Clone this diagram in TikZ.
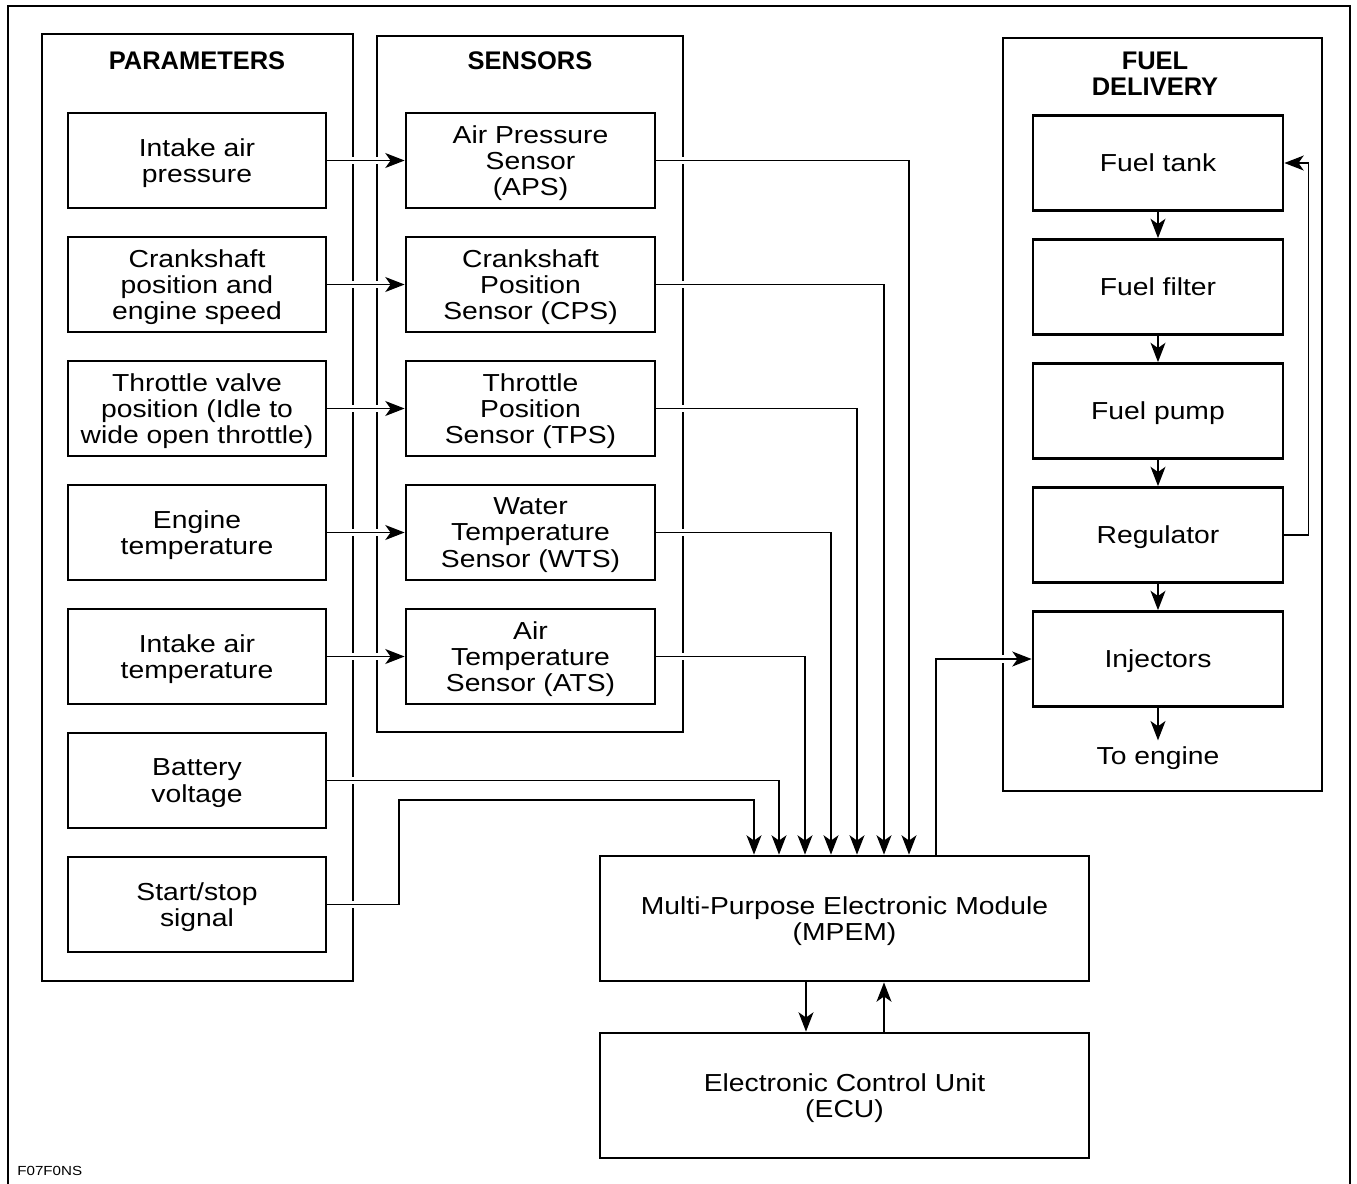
\documentclass[tikz,border=0pt]{standalone}
\usepackage{fontspec}
\setmainfont{Liberation Sans}[FakeStretch=1.15]
\newfontfamily\headfont{Liberation Sans}
\usetikzlibrary{arrows.meta}

\begin{document}
\begin{tikzpicture}[x=0.02cm,y=-0.02cm,
    blk/.style={draw,line width=1.6pt,align=center,inner sep=1pt,
      font=\fontsize{14}{15}\selectfont,text depth=-1.5pt},
    pbox/.style={blk,minimum width=5.16cm,minimum height=1.9cm},
    sbox/.style={blk,minimum width=4.98cm,minimum height=1.9cm},
    fbox/.style={blk,minimum width=5cm,minimum height=1.9cm},
    mbox/.style={blk,minimum width=9.78cm,minimum height=2.5cm,text depth=-4pt},
    head/.style={align=center,font=\headfont\bfseries\fontsize{14.5}{15}\selectfont},
    frame/.style={line width=1.6pt},
    link/.style={line width=0.8pt,-{Stealth[length=11pt,width=8.5pt,inset=3pt]},
      preaction={draw=white,line width=4pt,-}}]
        \useasboundingbox (0,0) rectangle (1357,1184);
        % frames
        \draw[frame] (8,1200) -- (8,6) -- (1350,6) -- (1350,1200);
        \draw[frame] (42,34) rectangle (353,981);
        \draw[frame] (377,36) rectangle (683,732);
        \draw[frame] (1003,38) rectangle (1322,791);
        \node[head] (tpar) at (197,61) {PARAMETERS};
        \node[head] (tsen) at (530,61) {SENSORS};
        \node[head] (tfuel) at (1155,74) {FUEL\\DELIVERY};
        % parameters and sensors
        \foreach \n/\y/\t in {1/160.5/{Intake air\\pressure},
            2/284.5/{Crankshaft\\position and\\engine speed},
            3/408.5/{Throttle valve\\position (Idle to\\wide open throttle)},
            4/532.5/{Engine\\temperature},
            5/656.5/{Intake air\\temperature},
            6/780.5/{Battery\\voltage},
            7/904.5/{Start/stop\\signal}} {
          \node[pbox] (p\n) at (197,\y) {\t};
        }
        \foreach \n/\y/\t in {1/160.5/{Air Pressure\\Sensor\\(APS)},
            2/284.5/{Crankshaft\\Position\\Sensor (CPS)},
            3/408.5/{Throttle\\Position\\Sensor (TPS)},
            4/532.5/{Water\\Temperature\\Sensor (WTS)},
            5/656.5/{Air\\Temperature\\Sensor (ATS)}} {
          \node[sbox] (s\n) at (530.5,\y) {\t};
        }
        % fuel delivery
        \node[fbox] (tank) at (1158,163) {Fuel tank};
        \node[fbox] (filter) at (1158,287) {Fuel filter};
        \node[fbox] (pump) at (1158,411) {Fuel pump};
        \node[fbox] (reg) at (1158,535) {Regulator};
        \node[fbox] (inj) at (1158,659) {Injectors};
        \node[font=\fontsize{14}{15}\selectfont] (eng) at (1158,758) {To engine};
        % modules
        \node[mbox] (mpem) at (844.5,918.5) {Multi-Purpose Electronic Module\\(MPEM)};
        \node[mbox] (ecu) at (844.5,1095.5) {Electronic Control Unit\\(ECU)};
        \node[anchor=west,inner sep=0pt,font=\fontsize{7.5}{8}\selectfont] (code) at (17,1171) {F07F0NS};
        % connectors
        \foreach \n in {1,...,5} {
          \draw[link] (p\n) -- (s\n);
        }
        \foreach \n/\x in {1/909,2/884,3/857,4/831,5/805} {
          \draw[link] (s\n.east) -| (\x,0 |- mpem.north);
        }
        \draw[link] (p6.east) -| (779,0 |- mpem.north);
        \draw[link] (p7.east) -| (399,800) -| (754,0 |- mpem.north);
        \draw[link] (936,0 |- mpem.north) |- (inj.west);
        \draw[link] (806,0 |- mpem.south) -- (806,0 |- ecu.north);
        \draw[link] (884,0 |- ecu.north) -- (884,0 |- mpem.south);
        \foreach \a/\b in {tank/filter,filter/pump,pump/reg,reg/inj,inj/eng} {
          \draw[link] (\a) -- (\b);
        }
        \draw[link] (reg.east) -- ++(24,0) |- (tank.east);
      \end{tikzpicture}
\end{document}
